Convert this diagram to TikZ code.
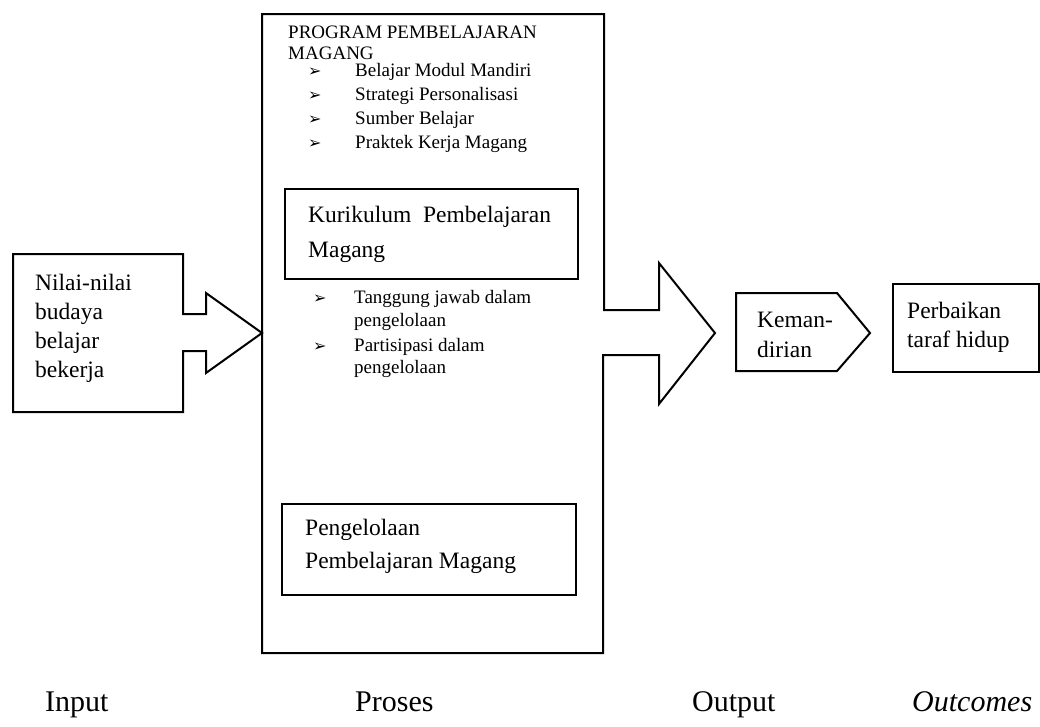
\documentclass[tikz,border=0pt]{standalone}
\usepackage{fontspec}
\setmainfont{Liberation Serif}
\newfontfamily\dejavu{DejaVu Sans}
\begin{document}
\begin{tikzpicture}[x=1pt,y=-1pt,every node/.style={inner sep=0pt}]
    \tikzset{
      outline/.style={line width=2pt,line join=miter},
      box/.style={draw,line width=2pt,anchor=north west},
      txt/.style={anchor=base west,font=\fontsize{23.5}{28}\selectfont},
      item/.style={anchor=base west,font=\fontsize{19}{22}\selectfont},
      tick/.style={anchor=base west,font=\dejavu\bfseries\fontsize{16}{18}\selectfont},
      caption/.style={anchor=base west,font=\fontsize{30}{36}\selectfont}
    }
    \useasboundingbox (0,0) rectangle (1040,726);

    % input block with arrow
    \draw[outline] (13,254) -- (183,254) -- (183,314) -- (206,314) -- (206,293)
      -- (262,333) -- (206,373) -- (206,351) -- (183,351) -- (183,412) -- (13,412) -- cycle;
    \foreach \w [count=\i] in {Nilai-nilai,budaya,belajar,bekerja}
      \node[txt] (in\i) at (35,{290+29.3*(\i-1)}) {\w};

    % proses block with output arrow
    \draw[outline] (262,14) -- (604,14) -- (604,310) -- (659,310) -- (659,263)
      -- (715,333) -- (659,404) -- (659,355) -- (603,355) -- (603,653) -- (262,653) -- cycle;
    \node[item] (head1) at (288,38) {PROGRAM PEMBELAJARAN};
    \node[item] (head2) at (288,59) {MAGANG};
    \foreach \w [count=\i] in {Belajar Modul Mandiri,Strategi Personalisasi,Sumber Belajar,Praktek Kerja Magang} {
      \node[tick] (pa\i) at (308,{76+24*(\i-1)}) {➢};
      \node[item] (pb\i) at (355,{76+24*(\i-1)}) {\w};
    }

    \node[box,minimum width=293,minimum height=90] (kur) at (284,188) {};
    \node[txt] (kur1) at (308,222) {Kurikulum\hspace{0.25em} Pembelajaran};
    \node[txt] (kur2) at (308,257) {Magang};

    \node[tick] (qa1) at (313,303) {➢};
    \node[item] (qb1) at (354,303) {Tanggung jawab dalam};
    \node[item] (qc1) at (354,326) {pengelolaan};
    \node[tick] (qa2) at (313,351) {➢};
    \node[item] (qb2) at (354,351) {Partisipasi dalam};
    \node[item] (qc2) at (354,373) {pengelolaan};

    \node[box,minimum width=294,minimum height=91] (pen) at (281,503) {};
    \node[txt] (pen1) at (305,535) {Pengelolaan};
    \node[txt] (pen2) at (305,568) {Pembelajaran Magang};

    % output and outcomes
    \draw[outline] (736,293) -- (837,293) -- (870,333) -- (837,371) -- (736,371) -- cycle;
    \node[txt] (out1) at (757,327) {Keman-};
    \node[txt] (out2) at (757,357) {dirian};

    \node[box,minimum width=146,minimum height=88] (hasil) at (892,283) {};
    \node[txt] (hasil1) at (907,318) {Perbaikan};
    \node[txt] (hasil2) at (907,347) {taraf hidup};

    % captions
    \node[caption] (capin) at (45,711) {Input};
    \node[caption] (cappro) at (355,711) {Proses};
    \node[caption] (capout) at (692,711) {Output};
    \node[caption] (capoc) at (912,711) {\itshape Outcomes};
\end{tikzpicture}
\end{document}
